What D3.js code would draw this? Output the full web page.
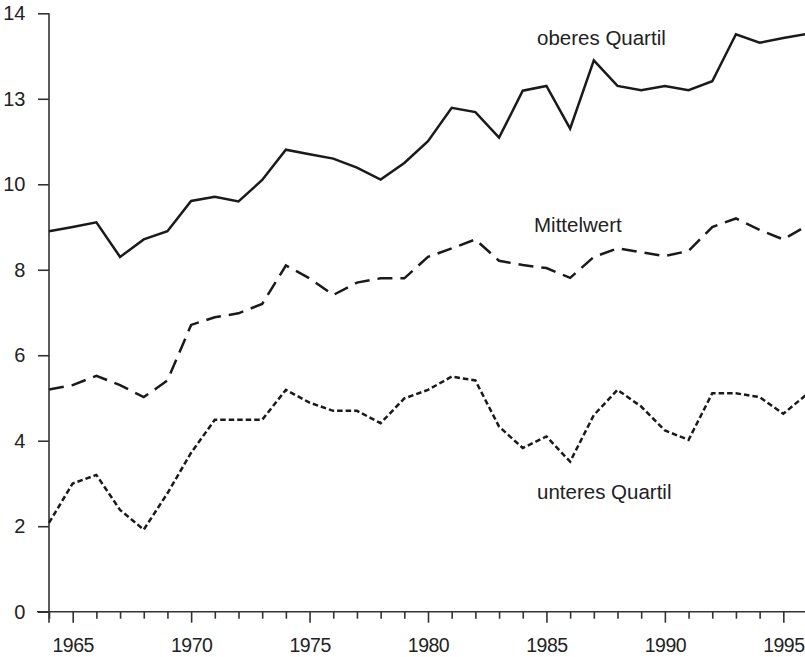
<!DOCTYPE html>
<html>
<head>
<meta charset="utf-8">
<script src="https://cdn.jsdelivr.net/npm/d3@7"></script>
<style>
  body { margin: 0; background: #fff; }
  svg { display: block; }
  text { font-family: "Liberation Sans", Arial, Helvetica, sans-serif; fill: #222; }
</style>
</head>
<body>
<div id="chart"></div>
<script>
// Jahre 1964-1996
const years = d3.range(1964, 1997);

const oberesQuartil = [
  8.90, 9.00, 9.11, 8.30, 8.71, 8.90, 9.61, 9.71, 9.60, 10.10,
  10.81, 10.70, 10.60, 10.39, 10.11, 10.50, 11.01, 11.79, 11.69, 11.09,
  12.19, 12.30, 11.30, 12.90, 12.30, 12.20, 12.30, 12.20, 12.41, 13.51,
  13.31, 13.42, 13.52
];

const mittelwert = [
  5.20, 5.30, 5.52, 5.30, 5.02, 5.41, 6.71, 6.89, 6.98, 7.20,
  8.10, 7.80, 7.41, 7.70, 7.80, 7.80, 8.30, 8.50, 8.71, 8.21,
  8.11, 8.04, 7.81, 8.30, 8.50, 8.41, 8.32, 8.44, 9.00, 9.20,
  8.93, 8.71, 9.03
];

const unteresQuartil = [
  2.08, 3.00, 3.20, 2.38, 1.92, 2.77, 3.72, 4.49, 4.49, 4.49,
  5.19, 4.89, 4.70, 4.70, 4.41, 4.99, 5.19, 5.50, 5.41, 4.33,
  3.83, 4.10, 3.51, 4.60, 5.19, 4.80, 4.24, 4.02, 5.11, 5.11,
  5.02, 4.63, 5.09
];

const yTicks = [0, 2, 4, 6, 8, 10, 12, 14];
const yTickLabels = ['0', '2', '4', '6', '8', '10', '13', '14'];   // so im Original gedruckt
const xMajor = [1965, 1970, 1975, 1980, 1985, 1990, 1995];

const series = [
  { name: 'oberes Quartil', values: oberesQuartil, dash: null, lx: 537, ly: 45 },
  { name: 'Mittelwert', values: mittelwert, dash: '15,8', lx: 534, ly: 232 },
  { name: 'unteres Quartil', values: unteresQuartil, dash: '5.5,3', lx: 537, ly: 499 }
];

const W = 805, H = 657;
const svg = d3.select('#chart').append('svg').attr('width', W).attr('height', H);

const x = d3.scaleLinear().domain([1964, 1996]).range([49, 807]);
const y = d3.scaleLinear().domain([0, 14]).range([611.7, 13.3]);

// y-Achse
const yAxis = svg.append('g')
  .attr('transform', 'translate(49,0)')
  .call(d3.axisLeft(y).tickValues(yTicks).tickSize(11).tickPadding(13)
    .tickFormat((d, i) => yTickLabels[i]));
yAxis.select('.domain').remove();
yAxis.selectAll('.tick line').attr('stroke', '#333').attr('stroke-width', 1.6);
yAxis.selectAll('.tick text').attr('font-size', 20).attr('fill', '#222')
  .attr('letter-spacing', '-0.3px')
  .attr('font-family', '"Liberation Sans", Arial, sans-serif');

svg.append('line')
  .attr('x1', 49).attr('x2', 49).attr('y1', y(14)).attr('y2', y(0) + 11)
  .attr('stroke', '#333').attr('stroke-width', 1.6);

// x-Achse: kleine und große Striche
const xMinor = svg.append('g')
  .attr('transform', `translate(0,${y(0)})`)
  .call(d3.axisBottom(x).tickValues(years.filter(d => d % 5 !== 0)).tickSize(7).tickFormat(''));
xMinor.select('.domain').remove();
xMinor.selectAll('.tick line').attr('stroke', '#333').attr('stroke-width', 1.6);

const xAxis = svg.append('g')
  .attr('transform', `translate(0,${y(0)})`)
  .call(d3.axisBottom(x).tickValues(xMajor).tickSize(11).tickPadding(15).tickFormat(d3.format('d')));
xAxis.select('.domain').remove();
xAxis.selectAll('.tick line').attr('stroke', '#333').attr('stroke-width', 1.6);
xAxis.selectAll('.tick text').attr('font-size', 19.5).attr('fill', '#222')
  .attr('letter-spacing', '-0.5px')
  .attr('font-family', '"Liberation Sans", Arial, sans-serif');

svg.append('line')
  .attr('x1', 37).attr('x2', W).attr('y1', y(0)).attr('y2', y(0))
  .attr('stroke', '#333').attr('stroke-width', 1.6);

// Linien
const line = d3.line()
  .x((d, i) => x(years[i]))
  .y(d => y(d));

svg.selectAll('path.serie').data(series).enter().append('path')
  .attr('class', 'serie')
  .attr('d', d => line(d.values))
  .attr('fill', 'none')
  .attr('stroke', '#1a1a1a')
  .attr('stroke-width', 2.5)
  .attr('stroke-linejoin', 'miter')
  .attr('stroke-dasharray', d => d.dash);

// Beschriftungen
svg.selectAll('text.label').data(series).enter().append('text')
  .attr('class', 'label')
  .attr('x', d => d.lx).attr('y', d => d.ly)
  .attr('font-size', 20.5)
  .text(d => d.name);
</script>
</body>
</html>
